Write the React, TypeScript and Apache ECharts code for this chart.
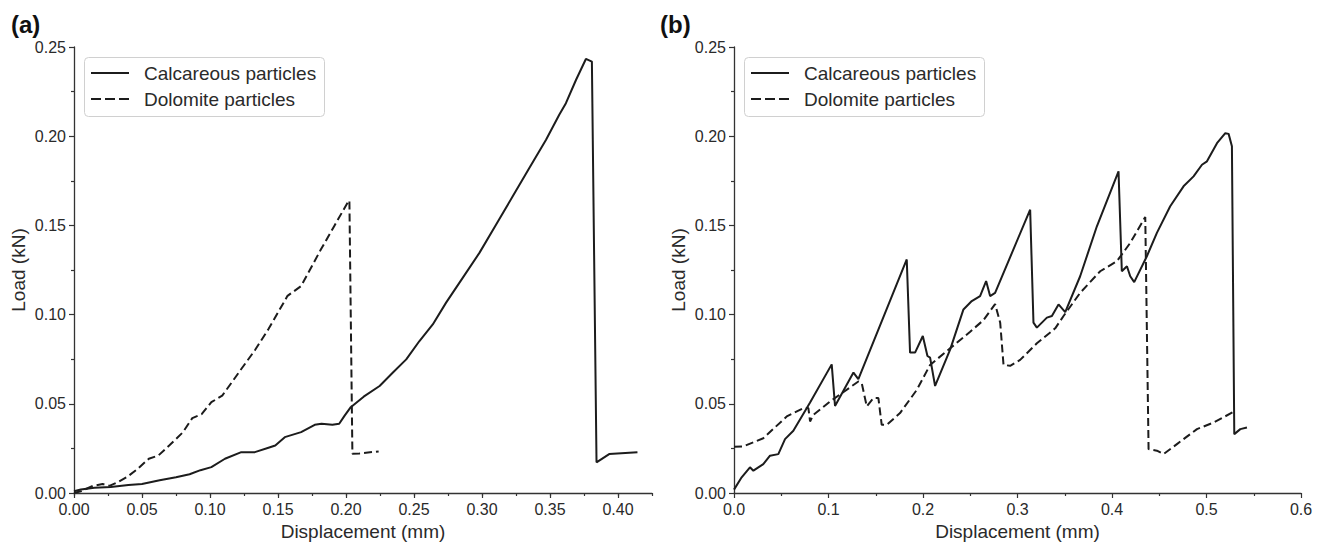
import React, { useEffect, useRef } from "react";
import * as echarts from "echarts";

const FONT = '"Liberation Sans", Arial, Helvetica, sans-serif';

const SERIES_NAMES = ["Calcareous particles", "Dolomite particles"];
const X_TICKS_A = [0, 0.05, 0.1, 0.15, 0.2, 0.25, 0.3, 0.35, 0.4];
const Y_TICKS = [0, 0.05, 0.1, 0.15, 0.2, 0.25];

// Panel (a): calcareous particles (solid)
const calcA: [number, number][] = [
  [0, 0.001], [0.005, 0.002], [0.015, 0.003], [0.027, 0.0033], [0.04, 0.0045],
  [0.05, 0.005], [0.063, 0.0072], [0.075, 0.0088], [0.085, 0.0105], [0.093, 0.0128],
  [0.101, 0.0145], [0.111, 0.0192], [0.123, 0.0229], [0.133, 0.0229], [0.143, 0.0254],
  [0.148, 0.0266], [0.155, 0.0313], [0.167, 0.0341], [0.177, 0.0382], [0.182, 0.0388],
  [0.19, 0.0382], [0.195, 0.0388], [0.199, 0.0434], [0.2035, 0.0481], [0.213, 0.054],
  [0.2247, 0.060], [0.2345, 0.0675], [0.2443, 0.0749], [0.254, 0.0852], [0.2638, 0.0945],
  [0.2736, 0.1067], [0.2858, 0.1206], [0.2981, 0.1346], [0.3103, 0.1504], [0.3226, 0.1663],
  [0.3348, 0.1822], [0.3471, 0.198], [0.3568, 0.212], [0.3617, 0.2185], [0.3691, 0.2315],
  [0.3764, 0.2433], [0.3808, 0.2418], [0.3842, 0.0172], [0.3935, 0.0218], [0.4143, 0.0228],
];

// Panel (a): dolomite particles (dashed)
const doloA: [number, number][] = [
  [0, 0], [0.005, 0.001], [0.014, 0.004], [0.021, 0.005], [0.026, 0.004],
  [0.032, 0.006], [0.039, 0.009], [0.046, 0.013], [0.055, 0.0192], [0.062, 0.021],
  [0.07, 0.0266], [0.08, 0.034], [0.087, 0.042], [0.094, 0.0443], [0.101, 0.0509],
  [0.109, 0.0546], [0.116, 0.062], [0.123, 0.0695], [0.133, 0.08], [0.143, 0.0919],
  [0.157, 0.1105], [0.167, 0.116], [0.1816, 0.1366], [0.1914, 0.1497], [0.2018, 0.1636],
  [0.2025, 0.164], [0.2047, 0.022], [0.21, 0.0222], [0.224, 0.0233],
];

// Panel (b): calcareous particles (solid)
const calcB: [number, number][] = [
  [0, 0.0019], [0.0081, 0.0088], [0.0169, 0.0144], [0.0205, 0.0125], [0.031, 0.0162],
  [0.0381, 0.0209], [0.0469, 0.0218], [0.054, 0.0302], [0.0628, 0.0349], [0.0805, 0.0507],
  [0.1034, 0.0721], [0.1069, 0.0488], [0.1264, 0.0675], [0.1316, 0.0638], [0.1828, 0.1309],
  [0.1863, 0.0787], [0.1916, 0.0787], [0.1998, 0.088], [0.2047, 0.0768], [0.2075, 0.0759],
  [0.2128, 0.06], [0.2288, 0.0805], [0.2428, 0.1029], [0.2516, 0.1076], [0.2604, 0.1104],
  [0.2668, 0.1188], [0.271, 0.1104], [0.2763, 0.1122], [0.3134, 0.1588], [0.3169, 0.0955],
  [0.3205, 0.0927], [0.3311, 0.0983], [0.3364, 0.0992], [0.3434, 0.1057], [0.3505, 0.1014],
  [0.3663, 0.1215], [0.384, 0.1495], [0.4069, 0.1803], [0.4104, 0.1243], [0.4158, 0.1271],
  [0.4193, 0.1215], [0.4235, 0.1182], [0.4369, 0.1327], [0.4475, 0.1458], [0.4616, 0.1607],
  [0.4757, 0.1719], [0.4863, 0.1775], [0.4952, 0.184], [0.5005, 0.1859], [0.5111, 0.1961],
  [0.5199, 0.2017], [0.5234, 0.2013], [0.5269, 0.1943], [0.5294, 0.033], [0.5358, 0.0358],
  [0.5428, 0.0367],
];

// Panel (b): dolomite particles (dashed)
const doloB: [number, number][] = [
  [0, 0.0259], [0.0099, 0.0261], [0.031, 0.0307], [0.0558, 0.0429], [0.0734, 0.0476],
  [0.0787, 0.0476], [0.0805, 0.0401], [0.084, 0.0438], [0.1017, 0.0513], [0.1316, 0.0625],
  [0.1352, 0.0615], [0.1405, 0.0485], [0.1475, 0.0532], [0.1528, 0.0532], [0.1563, 0.0382],
  [0.1616, 0.0382], [0.1757, 0.0448], [0.1934, 0.0578], [0.2075, 0.0718], [0.2287, 0.0811],
  [0.2499, 0.0904], [0.264, 0.0969], [0.2763, 0.1059], [0.2817, 0.0954], [0.2852, 0.0718],
  [0.2922, 0.0713], [0.3028, 0.0746], [0.3205, 0.0839], [0.3399, 0.0923], [0.3487, 0.0992],
  [0.3663, 0.1122], [0.3875, 0.1243], [0.4052, 0.1299], [0.4193, 0.1402], [0.4352, 0.1547],
  [0.4387, 0.0246], [0.4475, 0.0237], [0.4546, 0.0218], [0.4687, 0.0274], [0.4899, 0.0358],
  [0.5075, 0.0395], [0.5287, 0.0455],
];

const AXIS_COLOR = "#333";
const TEXT_COLOR = "#2a2a2a";
const LINE_COLOR = "#1c1c1c";
const DASH = [8, 4];

export default function App() {
  const ref = useRef<HTMLDivElement>(null);
  useEffect(() => {
    if (!ref.current) return;
    const chart = echarts.init(ref.current, null, { renderer: "svg" });
    const axisLine = { show: true, lineStyle: { color: AXIS_COLOR, width: 1.3 } };
    const tickStyle = { color: AXIS_COLOR, width: 1.2 };
    const labelBase = { fontSize: 16, color: TEXT_COLOR, fontFamily: FONT };
    const nameStyle = { fontSize: 19, color: TEXT_COLOR, fontFamily: FONT };

    const yAxisFor = (gridIndex: number) => ({
      gridIndex,
      type: "value",
      min: Y_TICKS[0],
      max: Y_TICKS[Y_TICKS.length - 1],
      interval: 0.05,
      name: "Load (kN)",
      nameLocation: "middle",
      nameGap: 46,
      nameRotate: 90,
      nameTextStyle: nameStyle,
      axisLine,
      axisTick: { show: true, length: 5, lineStyle: tickStyle },
      minorTick: { show: true, splitNumber: 2, length: 3, lineStyle: tickStyle },
      axisLabel: { ...labelBase, margin: 8, formatter: (v: number) => v.toFixed(2) },
      splitLine: { show: false },
      minorSplitLine: { show: false },
    });

    const legendGraphic = (ox: number) => ({
      type: "group",
      z: 50,
      children: [
        {
          type: "rect",
          shape: { x: 84.5 + ox, y: 57.5, width: 240, height: 59, r: 4 },
          style: { fill: "#fff", stroke: "#d0d0d0", lineWidth: 1 },
        },
        {
          type: "line",
          shape: { x1: 91 + ox, y1: 73, x2: 129 + ox, y2: 73 },
          style: { stroke: LINE_COLOR, lineWidth: 2 },
        },
        {
          type: "line",
          shape: { x1: 91 + ox, y1: 99, x2: 129 + ox, y2: 99 },
          style: { stroke: LINE_COLOR, lineWidth: 2, lineDash: [10, 4] },
        },
        {
          type: "text",
          style: {
            x: 144 + ox, y: 73, text: SERIES_NAMES[0], fill: TEXT_COLOR,
            fontSize: 19, fontFamily: FONT, verticalAlign: "middle", align: "left",
          },
        },
        {
          type: "text",
          style: {
            x: 144 + ox, y: 99, text: SERIES_NAMES[1], fill: TEXT_COLOR,
            fontSize: 19, fontFamily: FONT, verticalAlign: "middle", align: "left",
          },
        },
      ],
    });

    const lineSeries = (name: string, data: [number, number][], idx: number, dashed: boolean) => ({
      name,
      type: "line",
      xAxisIndex: idx === 0 ? 0 : 2,
      yAxisIndex: idx,
      data,
      showSymbol: false,
      symbol: "none",
      smooth: false,
      lineStyle: { color: LINE_COLOR, width: 2, type: dashed ? DASH : "solid" },
      itemStyle: { color: LINE_COLOR },
    });

    chart.setOption({
      animation: false,
      backgroundColor: "#fff",
      textStyle: { fontFamily: FONT },
      title: [
        { text: "(a)", left: 11, top: 12, padding: 0, textStyle: { fontSize: 24, fontWeight: "bold", color: "#111", fontFamily: FONT } },
        { text: "(b)", left: 660, top: 12, padding: 0, textStyle: { fontSize: 24, fontWeight: "bold", color: "#111", fontFamily: FONT } },
      ],
      graphic: [legendGraphic(0), legendGraphic(660)],
      grid: [
        { left: 74, top: 47, width: 578, height: 447 },
        { left: 734, top: 47, width: 567, height: 447 },
      ],
      xAxis: [
        {
          gridIndex: 0,
          type: "value",
          position: "bottom",
          min: 0,
          max: 0.425,
          name: "Displacement (mm)",
          nameLocation: "middle",
          nameGap: 29,
          nameTextStyle: nameStyle,
          axisLine,
          axisTick: { show: true, length: 5, lineStyle: tickStyle, customValues: X_TICKS_A },
          axisLabel: { ...labelBase, margin: 8, customValues: X_TICKS_A, formatter: (v: number) => v.toFixed(2) },
          splitLine: { show: false },
        },
        {
          gridIndex: 0,
          type: "value",
          position: "bottom",
          min: 0,
          max: 0.425,
          interval: 0.025,
          axisLine: { show: false },
          axisTick: { show: true, length: 3, lineStyle: tickStyle },
          axisLabel: { show: false },
          splitLine: { show: false },
        },
        {
          gridIndex: 1,
          type: "value",
          position: "bottom",
          min: 0,
          max: 0.6,
          interval: 0.1,
          name: "Displacement (mm)",
          nameLocation: "middle",
          nameGap: 29,
          nameTextStyle: nameStyle,
          axisLine,
          axisTick: { show: true, length: 5, lineStyle: tickStyle },
          minorTick: { show: true, splitNumber: 2, length: 3, lineStyle: tickStyle },
          axisLabel: { ...labelBase, margin: 8, formatter: (v: number) => v.toFixed(1) },
          splitLine: { show: false },
          minorSplitLine: { show: false },
        },
      ],
      yAxis: [yAxisFor(0), yAxisFor(1)],
      series: [
        lineSeries(SERIES_NAMES[0], calcA, 0, false),
        lineSeries(SERIES_NAMES[1], doloA, 0, true),
        lineSeries(SERIES_NAMES[0], calcB, 1, false),
        lineSeries(SERIES_NAMES[1], doloB, 1, true),
      ],
    });
    return () => chart.dispose();
  }, []);
  return (
    <div
      ref={ref}
      style={{ position: "fixed", left: 0, top: 0, width: 1325, height: 546, background: "#fff" }}
    />
  );
}
